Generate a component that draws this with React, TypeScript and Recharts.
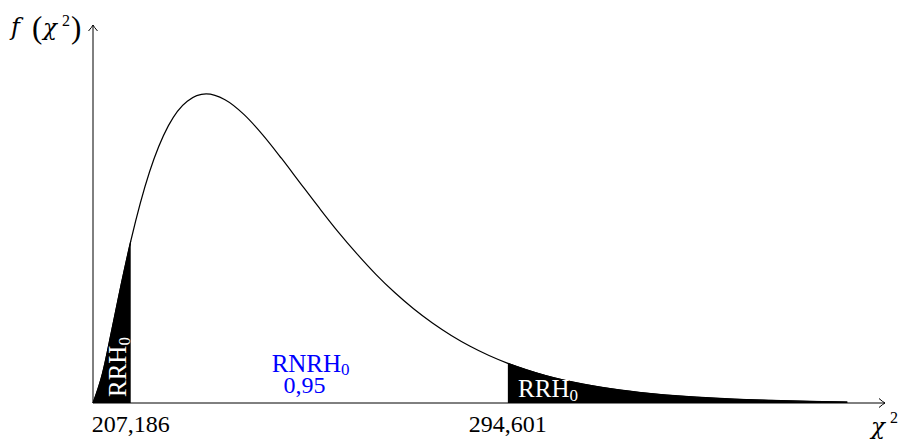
import React from "react";
import {
  ComposedChart,
  Line,
  Area,
  XAxis,
  YAxis,
  ReferenceLine,
  ReferenceDot,
} from "recharts";

// values (x in drawing units, y = density)
const xs = [
  0, 0.25, 0.5, 0.75, 1, 1.5, 2, 2.5, 3, 3.5, 4, 4.5, 5, 5.5, 6, 6.5, 7, 7.5,
  8, 8.5, 9, 9.5, 10, 10.5, 11, 12, 13, 14, 15, 16, 17, 18, 19, 20,
];
const ys = [
  0, 0.0147, 0.0366, 0.0594, 0.0807, 0.1154, 0.1384, 0.1506, 0.1542, 0.1513,
  0.144, 0.1338, 0.122, 0.1096, 0.0973, 0.0854, 0.0744, 0.0642, 0.0551, 0.047,
  0.0399, 0.0337, 0.0283, 0.0237, 0.0198, 0.0137, 0.0094, 0.0064, 0.0043,
  0.0029, 0.0019, 0.0013, 0.0008, 0.0005,
];

const lowerCut = 1;
const upperCut = 11;
const tickValues = [lowerCut, upperCut];
const tickLabels = ["207,186", "294,601"];

const xMax = 21;
const yMax = 0.1886;

const FONT = "'Liberation Serif', 'Times New Roman', serif";
const ITALIC = "'DejaVu Serif', serif";

const data = xs.map((x, i) => ({
  x,
  y: ys[i],
  lower: x <= lowerCut ? ys[i] : null,
  upper: x >= upperCut ? ys[i] : null,
}));

function XTick({ x, y, payload }: any) {
  const idx = tickValues.indexOf(payload.value);
  return (
    <text x={x} y={y + 29} textAnchor="middle" fontFamily={FONT} fontSize={24} fill="#000">
      {tickLabels[idx]}
    </text>
  );
}

const xArrow = ({ cx, cy }: any) => (
  <g>
    <path
      d={`M ${cx - 6} ${cy - 4.5} Q ${cx - 2} ${cy - 1} ${cx} ${cy} Q ${cx - 2} ${cy + 1} ${cx - 6} ${cy + 4.5}`}
      fill="none"
      stroke="#000"
      strokeWidth={1}
    />
    <text x={cx - 14} y={cy + 31} fontFamily={ITALIC} fontStyle="italic" fontSize={23} fill="#000">
      χ
    </text>
    <text x={cx + 5} y={cy + 20} fontFamily={FONT} fontSize={16} fill="#000">
      2
    </text>
  </g>
);

const yArrow = ({ cx, cy }: any) => (
  <g>
    <path
      d={`M ${cx - 4.5} ${cy + 6} Q ${cx - 1} ${cy + 2} ${cx} ${cy} Q ${cx + 1} ${cy + 2} ${cx + 4.5} ${cy + 6}`}
      fill="none"
      stroke="#000"
      strokeWidth={1}
    />
    <text x={cx - 82} y={cy + 10} fontFamily={ITALIC} fontStyle="italic" fontSize={24} fill="#000">
      f
    </text>
    <text x={cx - 61} y={cy + 13} fontFamily={FONT} fontSize={31} fill="#000">
      (
    </text>
    <text x={cx - 50} y={cy + 10} fontFamily={ITALIC} fontStyle="italic" fontSize={23} fill="#000">
      χ
    </text>
    <text x={cx - 31} y={cy + 1} fontFamily={FONT} fontSize={16} fill="#000">
      2
    </text>
    <text x={cx - 22} y={cy + 13} fontFamily={FONT} fontSize={31} fill="#000">
      )
    </text>
  </g>
);

const leftLabel = ({ cx, cy }: any) => (
  <text
    x={cx}
    y={cy}
    transform={`rotate(-90 ${cx} ${cy})`}
    fontFamily={FONT}
    fontSize={25}
    fill="#fff"
  >
    RRH<tspan fontSize={17} dy={4}>0</tspan>
  </text>
);

const rightLabel = ({ cx, cy }: any) => (
  <text x={cx} y={cy} fontFamily={FONT} fontSize={25} fill="#fff">
    RRH<tspan fontSize={17} dy={4}>0</tspan>
  </text>
);

const midLabel = ({ cx, cy }: any) => (
  <g>
    <text x={cx} y={cy} fontFamily={FONT} fontSize={25} fill="#0000ff" textAnchor="middle">
      RNRH<tspan fontSize={17} dy={3}>0</tspan>
    </text>
    <text x={cx - 6} y={cy + 21} fontFamily={FONT} fontSize={24} fill="#0000ff" textAnchor="middle">
      0,95
    </text>
  </g>
);

export default function App() {
  return (
    <div style={{ position: "absolute", left: 0, top: 0, background: "#fff" }}>
      <ComposedChart
        width={901}
        height={441}
        data={data}
        margin={{ top: 25, right: 16, left: 93, bottom: 0 }}
      >
        <XAxis
          type="number"
          dataKey="x"
          domain={[0, xMax]}
          ticks={tickValues}
          tickLine={false}
          tickSize={0}
          tickMargin={0}
          height={38}
          axisLine={{ stroke: "#000", strokeWidth: 1 }}
          tick={<XTick />}
          interval={0}
        />
        <YAxis type="number" domain={[0, yMax]} hide />
        <Area
          type="monotone"
          dataKey="lower"
          stroke="#000"
          strokeWidth={1}
          fill="#000"
          fillOpacity={1}
          isAnimationActive={false}
          dot={false}
          activeDot={false}
        />
        <Area
          type="monotone"
          dataKey="upper"
          stroke="#000"
          strokeWidth={1}
          fill="#000"
          fillOpacity={1}
          isAnimationActive={false}
          dot={false}
          activeDot={false}
        />
        <Line
          type="monotone"
          dataKey="y"
          stroke="#000"
          strokeWidth={1.2}
          dot={false}
          activeDot={false}
          isAnimationActive={false}
        />
        <ReferenceLine x={0} stroke="#000" strokeWidth={1} />
        <ReferenceDot x={xMax} y={0} r={1} shape={xArrow} />
        <ReferenceDot x={0} y={yMax} r={1} shape={yArrow} />
        <ReferenceDot x={0.875} y={0.003} r={1} shape={leftLabel} />
        <ReferenceDot x={11.27} y={0.003} r={1} shape={rightLabel} />
        <ReferenceDot x={5.77} y={0.0155} r={1} shape={midLabel} />
      </ComposedChart>
    </div>
  );
}
